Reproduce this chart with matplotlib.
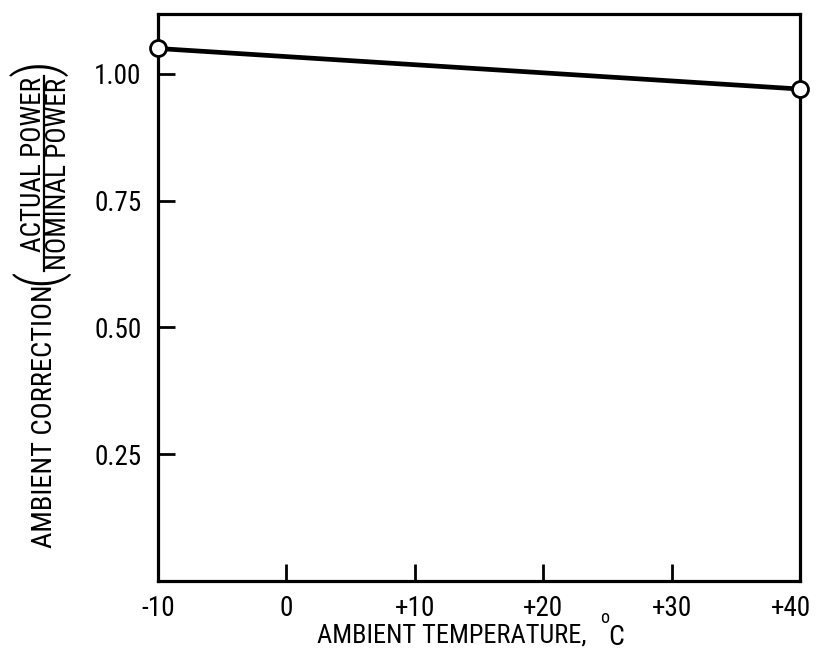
import os
import matplotlib
matplotlib.use("Agg")
import matplotlib.pyplot as plt
from matplotlib import font_manager as fm
from matplotlib.lines import Line2D
from matplotlib.transforms import ScaledTranslation

# Ambient temperature correction for engine power
temperature_c = [-10, 40]
power_ratio = [1.05, 0.97]

x_ticks = [-10, 0, 10, 20, 30, 40]
x_tick_labels = ["-10", "0", "+10", "+20", "+30", "+40"]
y_ticks = [0.25, 0.50, 0.75, 1.00]
y_tick_labels = ["0.25", "0.50", "0.75", "1.00"]


def narrow_font_file():
    """Return the path of a regular-weight condensed sans face, if any."""
    files = sorted({f.fname for f in fm.fontManager.ttflist} |
                   set(fm.findSystemFonts()))
    wanted = [
        "liberationsansnarrow-regular",
        "notosans-condensed.",
        "robotocondensed-regular",
        "opensans-condensedregular",
        "opensans_condensed-regular",
        "dejavusanscondensed.",
    ]
    for w in wanted:
        for f in files:
            if os.path.basename(f).lower().startswith(w):
                return f
    bad = ("bold", "italic", "oblique", "light", "thin", "black",
           "medium", "semi", "extra", "mono", "serif")
    for f in files:
        b = os.path.basename(f).lower()
        if ("condensed" in b or "narrow" in b) and not any(k in b for k in bad):
            return f
    return None


narrow = narrow_font_file()
narrow_light = None
if narrow and "Regular" in os.path.basename(narrow):
    cand = os.path.join(os.path.dirname(narrow),
                        os.path.basename(narrow).replace("Regular", "Light"))
    if os.path.exists(cand):
        narrow_light = cand


def font(size, light=False):
    if light and narrow_light:
        return fm.FontProperties(fname=narrow_light, size=size)
    if narrow:
        return fm.FontProperties(fname=narrow, size=size)
    return fm.FontProperties(family="DejaVu Sans", size=size * 0.88)


W, H = 816, 665


def fx(px):
    return px / W


def fy(py):
    return 1 - py / H


fig = plt.figure(figsize=(W / 100, H / 100), dpi=100)
ax = fig.add_axes([fx(158), fy(581), fx(800) - fx(158), fy(14) - fy(581)])

ax.plot(temperature_c, power_ratio, color="black", lw=3.4,
        solid_capstyle="butt", zorder=3)
ax.plot(temperature_c, power_ratio, linestyle="none", marker="o",
        markersize=11.5, markerfacecolor="white", markeredgecolor="black",
        markeredgewidth=2, clip_on=False, zorder=4)

ax.set_xlim(-10, 40)
ax.set_ylim(0, 1.118)

ax.set_xticks(x_ticks)
ax.set_xticklabels(x_tick_labels, fontproperties=font(19.5))
ax.set_yticks(y_ticks)
ax.set_yticklabels(y_tick_labels, fontproperties=font(19.5))

ax.tick_params(axis="both", direction="in", length=12.5, width=2,
               color="black")
ax.tick_params(axis="x", pad=10)
ax.tick_params(axis="y", pad=12)

# the rightmost temperature label sits a little inside the frame edge
last = ax.get_xticklabels()[-1]
last.set_transform(last.get_transform() +
                   ScaledTranslation(-9 / 100, 0, fig.dpi_scale_trans))

for s in ax.spines.values():
    s.set_linewidth(2.3)

# x-axis label with a raised "o" for degrees
fig.text(fx(452), fy(643), "AMBIENT TEMPERATURE,", fontproperties=font(19),
         ha="center", va="baseline")
fig.text(fx(600), fy(623), "o", fontproperties=font(13),
         ha="left", va="baseline")
fig.text(fx(608), fy(645), "C", fontproperties=font(20),
         ha="left", va="baseline")

# y-axis label: text plus the bracketed power ratio
fig.text(fx(52), fy(416), "AMBIENT CORRECTION", rotation=90,
         rotation_mode="anchor", fontproperties=font(20.5),
         ha="center", va="baseline")
fig.text(fx(41.5), fy(165), "ACTUAL POWER", rotation=90,
         rotation_mode="anchor", fontproperties=font(19.5),
         ha="center", va="baseline")
fig.text(fx(66), fy(173.5), "NOMINAL POWER", rotation=90,
         rotation_mode="anchor", fontproperties=font(19.5),
         ha="center", va="baseline")
fig.add_artist(Line2D([fx(43.5), fx(43.5)], [fy(76), fy(271)], color="black",
                      lw=1.6, transform=fig.transFigure))
fig.text(fx(39.5), fy(277), "(", rotation=90, fontproperties=font(41, light=True),
         ha="center", va="center")
fig.text(fx(39.5), fy(68), ")", rotation=90, fontproperties=font(41, light=True),
         ha="center", va="center")

fig.savefig("out.png", dpi=100)
